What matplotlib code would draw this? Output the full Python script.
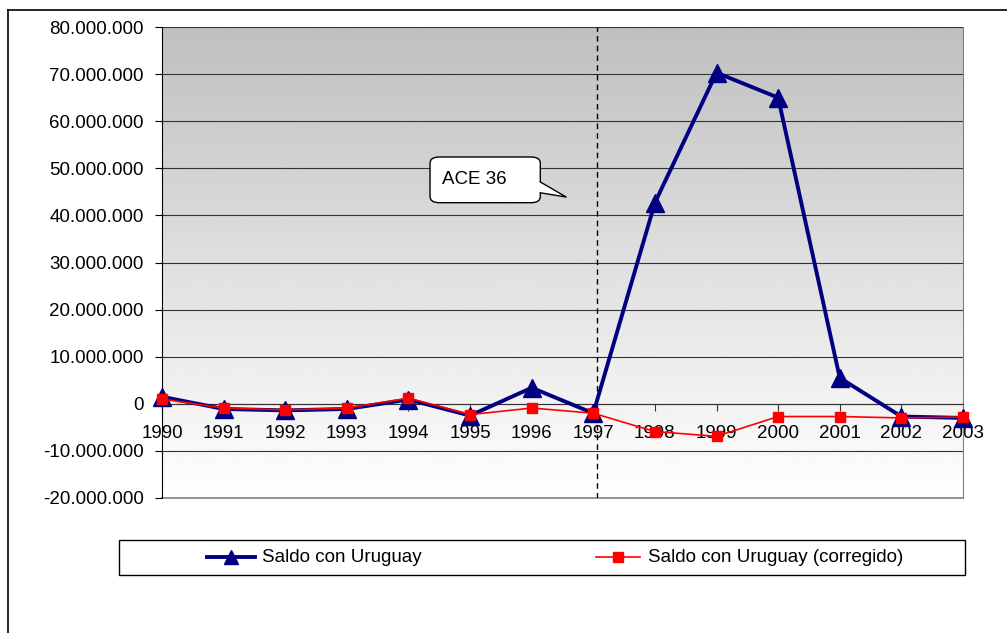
import numpy as np
import matplotlib
matplotlib.use("Agg")
import matplotlib.pyplot as plt
from matplotlib.patches import FancyBboxPatch, Polygon, Rectangle
from matplotlib.lines import Line2D
from matplotlib.ticker import FuncFormatter, MultipleLocator

plt.rcParams['font.family'] = ['Liberation Sans', 'DejaVu Sans']

# data
years = np.arange(1990, 2004)
saldo = [1.5e6, -1.1e6, -1.4e6, -1.1e6, 0.9e6, -2.5e6, 3.4e6, -2.0e6,
         42.7e6, 70.3e6, 65.0e6, 5.5e6, -2.7e6, -3.0e6]
saldo_corr = [1.0e6, -0.9e6, -1.3e6, -0.9e6, 1.2e6, -2.3e6, -0.9e6, -2.0e6,
              -5.9e6, -6.9e6, -2.7e6, -2.7e6, -3.0e6, -2.8e6]
labels = ["Saldo con Uruguay", "Saldo con Uruguay (corregido)"]
ace_year = 1997.06
ace_text = "ACE 36"

W, H = 1007, 633
fig = plt.figure(figsize=(W / 100, H / 100), dpi=100)
ax = fig.add_axes([162 / W, 1 - 498 / H, (963 - 162) / W, (498 - 27) / H])

# gradient background (gray top -> white bottom)
grad = np.linspace(0.75, 1.0, 256).reshape(-1, 1)
ax.imshow(grad, cmap='gray', vmin=0, vmax=1, aspect='auto',
          extent=[1990, 2003, -20e6, 80e6], zorder=0, origin='upper')
ax.set_xlim(1990, 2003)
ax.set_ylim(-20e6, 80e6)

# gridlines
for v in np.arange(-10e6, 90e6, 10e6):
    ax.axhline(v, color='#333333', lw=0.8, zorder=1)
ax.axhline(-20e6, color='#808080', lw=1.2, zorder=1, clip_on=False)

ax.axvline(ace_year, color='black', lw=1.0, ls=(0, (4, 3)), zorder=2)

ax.plot(years, saldo, color='#000080', lw=2.8, marker='^', ms=13,
        zorder=4, clip_on=False)
ax.plot(years, saldo_corr, color='#ff0000', lw=1.2, marker='s', ms=7,
        zorder=5, clip_on=False)

# axes styling
ax.spines['top'].set_visible(False)
ax.spines['right'].set_color('#808080')
ax.spines['bottom'].set_position(('data', 0))
ax.spines['bottom'].set_color('#333333')
ax.spines['left'].set_color('black')
ax.yaxis.set_major_locator(MultipleLocator(10e6))
ax.yaxis.set_major_formatter(FuncFormatter(lambda v, p: f"{v:,.0f}".replace(",", ".")))
ax.set_xticks(years)
ax.set_xticklabels([str(y) for y in years])
ax.tick_params(axis='y', direction='out', length=5, pad=8, labelsize=13.5)
ax.tick_params(axis='x', direction='out', length=5, pad=10, labelsize=13.5,
               color='#333333')

# callout "ACE 36"
x0, x1 = 1994.35, 1996.14
y0, y1 = 42.7e6, 52.4e6
box = FancyBboxPatch((x0, y0), x1 - x0, y1 - y0,
                     boxstyle="round,pad=0,rounding_size=0.15",
                     mutation_aspect=(y1 - y0) / (x1 - x0) * 1.6,
                     fc='white', ec='black', lw=1.0, zorder=6)
ax.add_patch(box)
tip = (1996.56, 43.9e6)
up, lo = 47.1e6, 44.8e6
tail = Polygon([(x1 - 0.05, up), (x1, up), tip, (x1, lo), (x1 - 0.05, lo)],
               closed=True, fc='white', ec='none', zorder=7)
ax.add_patch(tail)
ax.plot([x1, tip[0], x1], [up, tip[1], lo], color='black',
        lw=1.0, zorder=8)
ax.text(x0 + 0.2, (y0 + y1) / 2, ace_text, fontsize=13.5, va='center',
        ha='left', zorder=9)

# legend drawn in figure pixels
def fx(px):
    return px / W

def fy(py):
    return 1 - py / H

fig.add_artist(Rectangle((fx(119), fy(575)), fx(965) - fx(119), fy(540) - fy(575),
                         fc='white', ec='black', lw=1.0))
ly = fy(557)
fig.add_artist(Line2D([fx(207), fx(231), fx(255)], [ly, ly, ly], color='#000080', lw=2.8,
                      marker='^', ms=10, markevery=[1]))
fig.text(fx(262), ly, labels[0], fontsize=13.5, va='center', ha='left')
fig.add_artist(Line2D([fx(596), fx(618), fx(640)], [ly, ly, ly], color='#ff0000', lw=1.2,
                      marker='s', ms=7, markevery=[1]))
fig.text(fx(648), ly, labels[1], fontsize=13.5, va='center', ha='left')

# outer chart border
fig.add_artist(Line2D([fx(8), fx(8)], [fy(10), 0], color='black', lw=1.2))
fig.add_artist(Line2D([fx(8), 1], [fy(10), fy(10)], color='black', lw=1.2))

fig.savefig("out.png", dpi=100)
